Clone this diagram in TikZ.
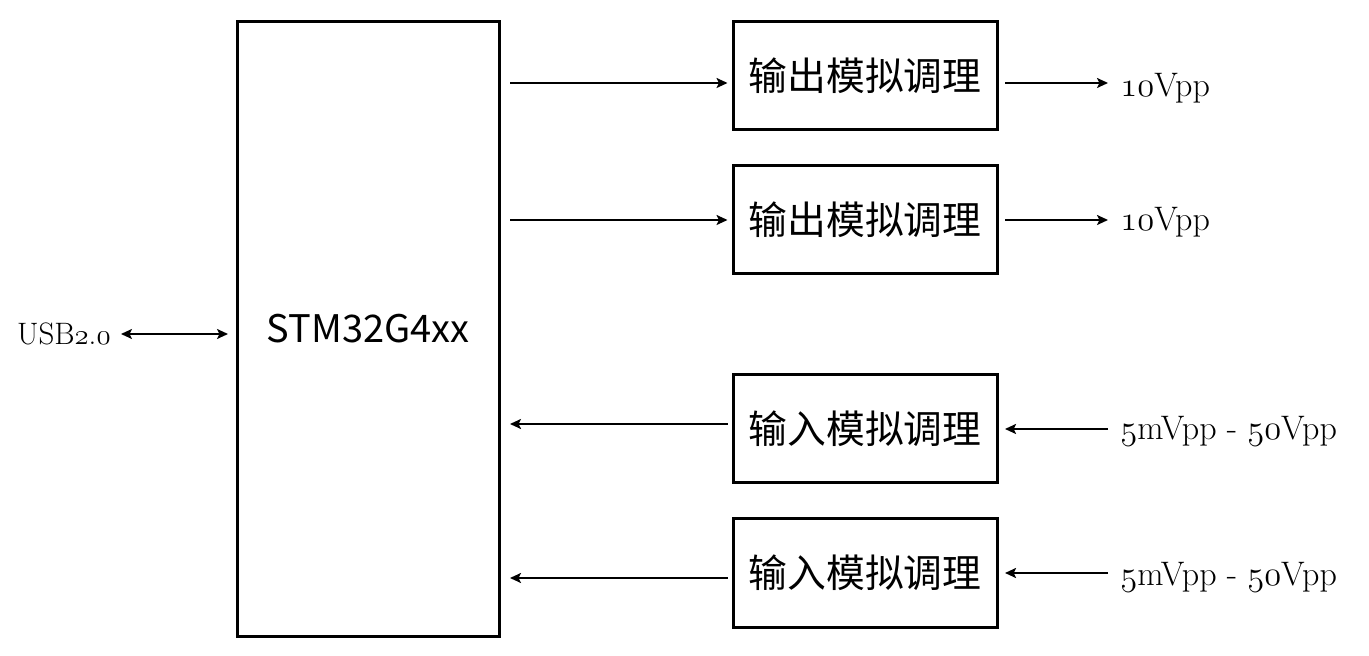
\documentclass[tikz,border=0pt]{standalone}
\usepackage{fontspec}
\usepackage{tikz}
\usetikzlibrary{arrows.meta,positioning,calc}
\newfontfamily\cjk{Noto Sans CJK SC}
\providecommand{\legacyoldstylenums}{\oldstylenums}
\newcommand{\osn}[1]{\legacyoldstylenums{#1}}
\tikzset{
  mcu/.style  ={draw, line width=1.5pt, minimum width=131pt, minimum height=307pt,
                inner sep=0pt, font=\cjk\fontsize{19}{22}\selectfont},
  cond/.style ={draw, line width=1.5pt, minimum width=132pt, minimum height=54pt,
                inner sep=0pt, font=\cjk\fontsize{19.4}{22}\selectfont},
  sig/.style  ={inner sep=0pt, anchor=west, font=\fontsize{17}{19}\selectfont},
  arrow/.style={-{Stealth[length=5.5pt,width=5pt,inset=1.2pt]}, line width=1pt},
  barrow/.style={{Stealth[length=5.5pt,width=5pt,inset=1.2pt]}-{Stealth[length=5.5pt,width=5pt,inset=1.2pt]}, line width=1pt},
}

\begin{document}
\begin{tikzpicture}[x=0.5pt, y=-0.5pt]
        \useasboundingbox (0,0) rectangle (1369,656);
        % controller and conditioning stages
        \node[mcu]  (mcu) at (368,329) {STM32G4xx};
        \node[cond] (o1)  at (865,76)  {输出模拟调理};
        \node[cond] (o2)  at (865,220) {输出模拟调理};
        \node[cond] (i1)  at (865,429) {输入模拟调理};
        \node[cond] (i2)  at (865,573) {输入模拟调理};
        % signal labels
        \node[sig] (v1) at (1120,88)  {\osn{10}Vpp};
        \node[sig] (v2) at (1120,222) {\osn{10}Vpp};
        \node[sig] (w1) at (1120,431) {\osn{5}mVpp - \osn{50}Vpp};
        \node[sig] (w2) at (1120,577) {\osn{5}mVpp - \osn{50}Vpp};
        \node[sig, anchor=east, font=\fontsize{15.5}{18}\selectfont] (usb) at (111,334) {USB\osn{2}.\osn{0}};
        % outputs
        \draw[arrow, shorten <=4.75pt, shorten >=2pt] ($(mcu.east |- o1.west)+(0,7)$) -- ($(o1.west)+(0,7)$);
        \draw[arrow, shorten <=4.75pt, shorten >=2pt] (mcu.east |- o2.west) -- (o2.west);
        \draw[arrow, shorten <=3.25pt, shorten >=6pt] ($(o1.east)+(0,7)$) -- ($(v1.west |- o1.east)+(0,7)$);
        \draw[arrow, shorten <=3.25pt, shorten >=6pt] (o2.east) -- (v2.west |- o2.east);
        % inputs
        \draw[arrow, shorten <=6pt, shorten >=3.25pt] (w1.west |- i1.east) -- (i1.east);
        \draw[arrow, shorten <=6pt, shorten >=3.25pt] (w2.west |- i2.east) -- (i2.east);
        \draw[arrow, shorten <=2pt, shorten >=4.75pt] ($(i1.west)+(0,-5)$) -- ($(mcu.east |- i1.west)+(0,-5)$);
        \draw[arrow, shorten <=2pt, shorten >=4.75pt] ($(i2.west)+(0,5)$) -- ($(mcu.east |- i2.west)+(0,5)$);
        % usb
        \draw[barrow, shorten <=5pt, shorten >=3.75pt] (usb.east) -- (usb.east -| mcu.west);
      \end{tikzpicture}
\end{document}
